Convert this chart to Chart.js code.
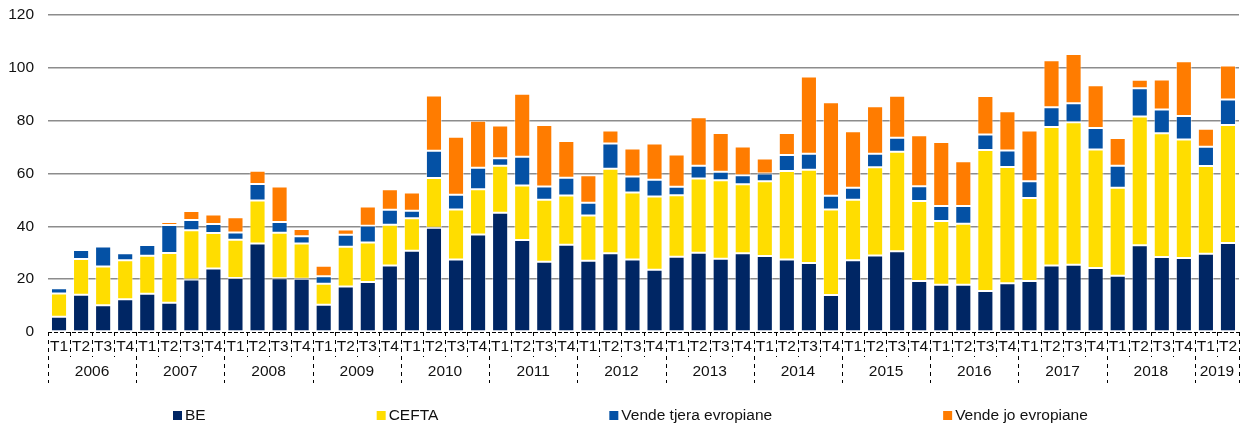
<!DOCTYPE html>
<html lang="sq">
<head>
  <meta charset="UTF-8" />
  <title>BE, CEFTA, vende tjera</title>
  <script src="https://cdn.jsdelivr.net/npm/chart.js@4.4.0/dist/chart.umd.min.js"></script>
  <style>
    * { box-sizing: border-box; }
    html, body { margin: 0; padding: 0; background: #fff; overflow: hidden; }
    .wrap { width: 1250px; height: 427px; position: relative; }
  </style>
</head>
<body>
  <div class="wrap">
    <canvas id="grafik" aria-label="Grafik me shtylla sipas tremujorëve"></canvas>
  </div>

  <script>
    /* ---------- DATA ---------- */
    var vitet = ["2006", "2007", "2008", "2009", "2010", "2011", "2012",
                 "2013", "2014", "2015", "2016", "2017", "2018", "2019"];
    var tremujoret = ["T1", "T2", "T3", "T4"];
    var tremujoreNeVit = [4, 4, 4, 4, 4, 4, 4, 4, 4, 4, 4, 4, 4, 2];

    var be = [5.8, 14.1, 10.1, 12.4, 14.5, 11.1, 19.9, 24.0, 20.4, 33.5, 20.3, 20.2,
              10.3, 17.2, 18.9, 25.2, 30.8, 39.5, 27.4, 36.9, 45.1, 34.8, 26.6, 33.0,
              27.0, 29.8, 27.4, 23.6, 28.5, 30.0, 27.7, 29.8, 28.8, 27.4, 26.1, 14.0,
              27.2, 29.0, 30.6, 19.3, 17.9, 17.9, 15.5, 18.5, 19.3, 25.2, 25.5, 24.2,
              21.3, 32.8, 28.4, 28.0, 29.6, 33.7];
    var cefta = [8.8, 13.5, 14.7, 14.8, 14.4, 18.8, 18.6, 13.5, 14.5, 16.3, 17.3, 13.3,
                 8.0, 15.1, 15.0, 15.4, 12.3, 18.8, 19.0, 17.1, 17.8, 20.7, 23.5, 18.7,
                 17.1, 32.0, 25.4, 27.7, 23.3, 28.1, 29.7, 26.1, 28.3, 33.5, 35.3, 32.4,
                 22.9, 33.4, 37.6, 30.3, 24.1, 23.1, 53.4, 44.0, 31.4, 52.4, 53.9, 44.9,
                 33.3, 48.8, 46.8, 44.9, 33.2, 44.7];
    var tjeraEvropiane = [2.0, 3.4, 7.6, 2.6, 4.0, 10.6, 3.9, 3.4, 2.8, 6.2, 4.0, 2.7,
                          2.8, 4.5, 6.3, 5.7, 2.8, 10.3, 5.6, 8.2, 2.9, 10.8, 5.0, 6.7,
                          4.8, 9.6, 6.1, 6.3, 3.2, 4.8, 3.3, 3.4, 2.9, 6.1, 6.1, 5.2,
                          4.5, 5.1, 5.3, 5.6, 5.7, 6.7, 5.9, 6.2, 6.4, 7.5, 7.2, 8.1,
                          8.3, 10.7, 9.0, 8.9, 7.3, 9.6];
    var joEvropiane = [0.4, 0.4, 0.4, 0.1, 0.6, 1.1, 3.4, 3.6, 5.7, 5.0, 13.5, 2.8,
                       4.0, 2.0, 7.3, 7.7, 6.9, 20.9, 21.9, 17.8, 12.4, 23.9, 23.3, 13.9,
                       10.4, 4.9, 10.6, 13.8, 12.2, 18.4, 14.6, 10.9, 5.7, 8.3, 29.2, 35.4,
                       21.4, 18.0, 15.9, 19.3, 24.2, 16.9, 14.5, 14.9, 19.2, 17.8, 18.6, 16.2,
                       10.5, 3.2, 11.4, 20.7, 6.8, 12.9];
    var yTicks = [0, 20, 40, 60, 80, 100, 120];

    /* ---------- ETIKETAT E TREMUJORËVE ---------- */
    var etiketat = [];
    tremujoreNeVit.forEach(function (n) {
      for (var q = 0; q < n; q++) { etiketat.push(tremujoret[q]); }
    });

    var FONT = '"Liberation Sans", Arial, sans-serif';
    var ngjyrat = ["#002664", "#FFDD00", "#0451A5", "#FF7C00"];

    /* ---------- PLUGIN: boshti me vija, vitet, legjenda ---------- */
    var boshtiPlugin = {
      id: "boshti",
      afterDraw: function (chart) {
        var c = chart.ctx;
        var a = chart.chartArea;
        var n = etiketat.length;
        var w = (a.right - a.left) / n;
        var y0 = a.bottom;

        c.save();
        c.strokeStyle = "#000";
        c.lineWidth = 1;

        /* vija horizontale e boshtit */
        c.setLineDash([4, 2]);
        c.beginPath();
        c.moveTo(a.left, y0 + 0.5);
        c.lineTo(a.right, y0 + 0.5);
        c.stroke();

        /* ndarësit vertikalë */
        var kufijVitesh = [0];
        var s = 0;
        tremujoreNeVit.forEach(function (k) { s += k; kufijVitesh.push(s); });

        c.setLineDash([4, 4]);
        for (var i = 0; i <= n; i++) {
          var x = Math.round(a.left + i * w) + 0.5;
          var gjatesia = kufijVitesh.indexOf(i) >= 0 ? 51 : 25;
          c.beginPath();
          c.moveTo(x, y0);
          c.lineTo(x, y0 + gjatesia);
          c.stroke();
        }

        /* vitet */
        c.setLineDash([]);
        c.fillStyle = "#111";
        c.font = "15.5px " + FONT;
        c.textAlign = "center";
        c.textBaseline = "middle";
        for (var v = 0; v < vitet.length; v++) {
          var xm = a.left + (kufijVitesh[v] + kufijVitesh[v + 1]) / 2 * w;
          c.fillText(vitet[v], xm, y0 + 40);
        }

        /* legjenda */
        var lx = 173;
        var ly = 415.5;
        c.textAlign = "left";
        chart.data.datasets.forEach(function (ds) {
          c.fillStyle = ds.backgroundColor;
          c.fillRect(lx, ly - 4.5, 9, 9);
          c.fillStyle = "#111";
          c.fillText(ds.label, lx + 12, ly);
          lx += 12 + c.measureText(ds.label).width + 171;
        });
        c.restore();
      }
    };

    /* ---------- GRAFIKU ---------- */
    function seri(label, data, ngjyra) {
      return {
        label: label,
        data: data,
        backgroundColor: ngjyra,
        borderColor: "rgba(255,255,255,0.45)",
        borderWidth: 1,
        borderSkipped: false,
        barPercentage: 0.73,
        categoryPercentage: 1.0
      };
    }

    new Chart(document.getElementById("grafik"), {
      type: "bar",
      data: {
        labels: etiketat,
        datasets: [
          seri("BE", be, ngjyrat[0]),
          seri("CEFTA", cefta, ngjyrat[1]),
          seri("Vende tjera evropiane", tjeraEvropiane, ngjyrat[2]),
          seri("Vende jo evropiane", joEvropiane, ngjyrat[3])
        ]
      },
      options: {
        responsive: true,
        maintainAspectRatio: false,
        animation: false,
        devicePixelRatio: 1,
        layout: { padding: { left: 0, right: 11, top: 15, bottom: 0 } },
        plugins: {
          legend: { display: false },
          tooltip: { enabled: false }
        },
        scales: {
          x: {
            stacked: true,
            grid: { display: false, drawTicks: false },
            border: { display: false },
            ticks: {
              autoSkip: false,
              maxRotation: 0,
              padding: 5,
              color: "#111",
              font: { family: FONT, size: 15.5 }
            },
            afterFit: function (scale) {
              scale.height = 95;
              scale.paddingLeft = 0;
              scale.paddingRight = 0;
            }
          },
          y: {
            stacked: true,
            min: 0,
            max: 120,
            afterBuildTicks: function (scale) {
              scale.ticks = yTicks.map(function (v) { return { value: v }; });
            },
            grid: {
              drawTicks: false,
              lineWidth: 1.6,
              color: function (ctx) {
                return ctx.tick && ctx.tick.value === 0 ? "rgba(0,0,0,0)" : "#8c8c8c";
              }
            },
            border: { display: false },
            ticks: {
              padding: 14,
              color: "#111",
              font: { family: FONT, size: 15.5 }
            },
            afterFit: function (scale) {
              scale.width = 48;
              scale.paddingTop = 0;
              scale.paddingBottom = 0;
            }
          }
        }
      },
      plugins: [boshtiPlugin]
    });
  </script>
</body>
</html>
